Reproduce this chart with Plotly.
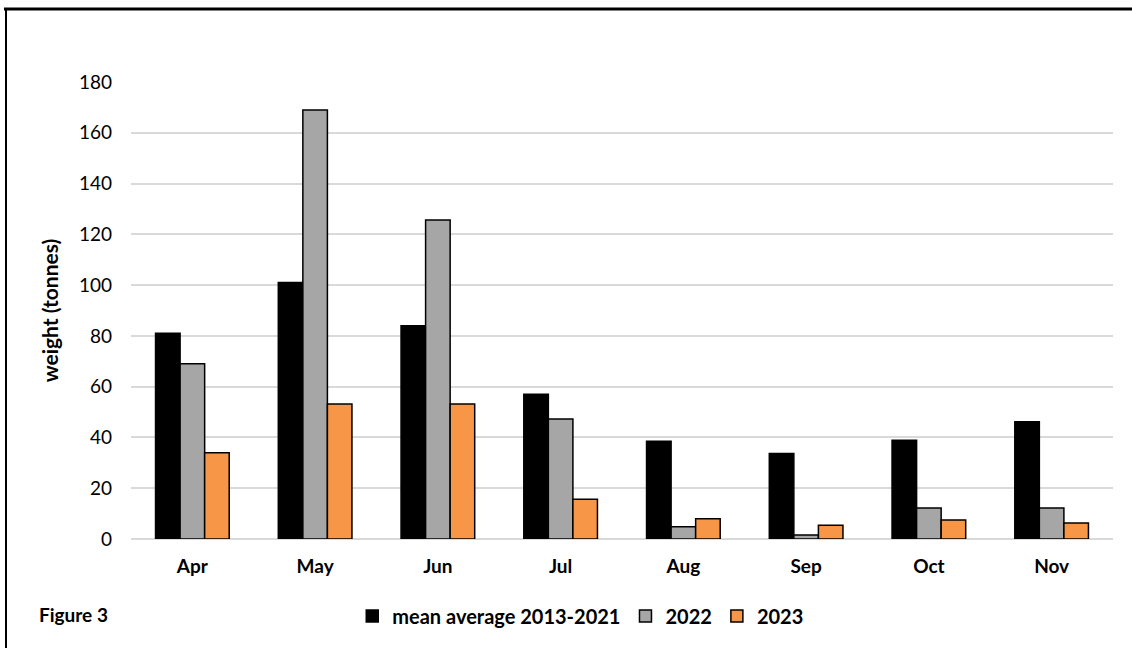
import plotly.graph_objects as go

months = ["Apr", "May", "Jun", "Jul", "Aug", "Sep", "Oct", "Nov"]
mean_2013_2021 = [81, 101, 84, 57, 38.5, 33.7, 38.9, 46.2]
y2022 = [69, 169, 125.6, 47.3, 4.8, 1.6, 12.2, 12.2]
y2023 = [34, 53.2, 53.2, 15.7, 8, 5.4, 7.5, 6.3]
y_ticks = [0, 20, 40, 60, 80, 100, 120, 140, 160, 180]

FONT = "Lato, 'Open Sans', sans-serif"
W, H = 1132, 648
L, R, T, B = 131, 19, 82, 109
pw, ph = W - L - R, H - T - B

fig = go.Figure()
series = [("mean average 2013-2021", mean_2013_2021, "#000000"),
          ("2022", y2022, "#A6A6A6"),
          ("2023", y2023, "#F79646")]
for name, vals, col in series:
    fig.add_trace(go.Bar(x=months, y=vals, name=name, marker=dict(color=col, line=dict(color="#000000", width=1.5))))

fig.update_layout(
    width=W, height=H,
    margin=dict(l=L, r=R, t=T, b=B),
    paper_bgcolor="white", plot_bgcolor="white",
    barmode="group", bargap=0.40, bargroupgap=0,
    font=dict(family=FONT, color="#000000"),
    showlegend=True,
    legend=dict(orientation="h", x=0.458, xanchor="center", y=(539 - 616) / ph, yanchor="middle",
                font=dict(family=FONT, size=20, color="#000000", weight="bold"), itemwidth=30),
    xaxis=dict(showgrid=False, showline=False, ticks="", ticklabelstandoff=14,
               tickfont=dict(family=FONT, size=19, color="#000000", weight="bold")),
    yaxis=dict(range=[0, 180], tickvals=y_ticks, showgrid=True, gridcolor="#D9D9D9", gridwidth=2,
               zeroline=True, zerolinecolor="#D9D9D9", zerolinewidth=2, showline=False, ticks="",
               ticklabelstandoff=18,
               tickfont=dict(family=FONT, size=19, color="#000000"),
               title=dict(text="weight (tonnes)", standoff=14,
                          font=dict(family=FONT, size=21, color="#000000", weight="bold"))),
    annotations=[dict(text="<b>Figure 3</b>", xref="paper", yref="paper",
                      x=(37 - L) / pw, y=(539 - 614) / ph, xanchor="left", yanchor="middle",
                      showarrow=False, font=dict(family=FONT, size=19, color="#000000"))],
    shapes=[
        dict(type="line", xref="paper", yref="paper", x0=(4 - L) / pw, x1=(1140 - L) / pw,
             y0=(539 - 9) / ph, y1=(539 - 9) / ph, line=dict(color="#000000", width=3)),
        dict(type="line", xref="paper", yref="paper", x0=(6 - L) / pw, x1=(6 - L) / pw,
             y0=(539 - 8) / ph, y1=(539 - 660) / ph, line=dict(color="#000000", width=2)),
    ],
)
fig.write_html("out.html")
